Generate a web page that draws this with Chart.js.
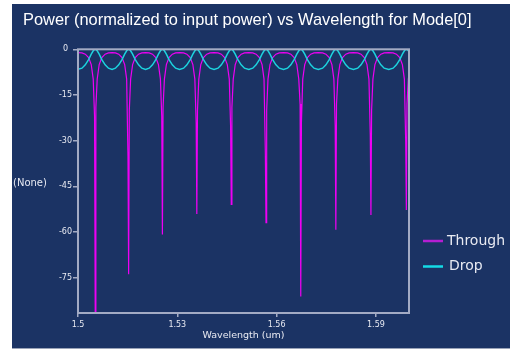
<!DOCTYPE html>
<html>
<head>
<meta charset="utf-8">
<script src="https://cdn.jsdelivr.net/npm/chart.js@4.4.1/dist/chart.umd.min.js"></script>
<style>
  html, body { margin: 0; padding: 0; background: #ffffff; }
  #panel {
    position: absolute; left: 12px; top: 4px; width: 498px; height: 344px;
    background: #1b3364; border-bottom: 1px solid #9aa3b8;
  }
</style>
</head>
<body>
<div id="panel"><canvas id="powerChart"></canvas></div>
<script>
// wavelength samples (um), dense around each ring resonance
const wavelength = [
  1.5000,
  1.5012, 1.5022, 1.5032, 1.5040, 1.5046, 1.5050, 1.5052, 1.5054, 1.5058, 1.5064, 1.5072, 1.5082, 1.5092, 1.5103,
  1.5113, 1.5123, 1.5133, 1.5141, 1.5147, 1.5151, 1.5153, 1.5155, 1.5159, 1.5165, 1.5173, 1.5183, 1.5193, 1.5204,
  1.5215, 1.5225, 1.5235, 1.5243, 1.5249, 1.5253, 1.5255, 1.5257, 1.5261, 1.5267, 1.5275, 1.5285, 1.5295, 1.5307,
  1.5319, 1.5329, 1.5339, 1.5347, 1.5353, 1.5357, 1.5359, 1.5361, 1.5365, 1.5371, 1.5379, 1.5389, 1.5399, 1.5411,
  1.5423, 1.5433, 1.5443, 1.5451, 1.5457, 1.5461, 1.5463, 1.5465, 1.5469, 1.5475, 1.5483, 1.5493, 1.5503, 1.5516,
  1.5528, 1.5538, 1.5548, 1.5556, 1.5562, 1.5566, 1.5568, 1.5570, 1.5574, 1.5580, 1.5588, 1.5598, 1.5608, 1.5621,
  1.5633, 1.5643, 1.5653, 1.5661, 1.5667, 1.5671, 1.5673, 1.5675, 1.5679, 1.5685, 1.5693, 1.5703, 1.5713, 1.5726,
  1.5739, 1.5749, 1.5759, 1.5767, 1.5773, 1.5777, 1.5779, 1.5781, 1.5785, 1.5791, 1.5799, 1.5809, 1.5819, 1.5832,
  1.5845, 1.5855, 1.5865, 1.5873, 1.5879, 1.5883, 1.5885, 1.5887, 1.5891, 1.5897, 1.5905, 1.5915, 1.5925, 1.5939,
  1.5952, 1.5962, 1.5972, 1.5980, 1.5986, 1.5990, 1.5992, 1.5994, 1.5998, 1.6000
];

// through port power (dB)
const through = [
  -1.08,
  -1.2, -1.6, -2.7, -5.0, -9.8, -22, -86.6, -19, -9.8, -5.0, -2.7, -1.6, -1.2, -1.07,
  -1.2, -1.6, -2.7, -5.0, -9.8, -35, -73.9, -20, -9.8, -5.0, -2.7, -1.6, -1.2, -1.07,
  -1.2, -1.6, -2.7, -5.0, -9.8, -22, -60.8, -19, -9.8, -5.0, -2.7, -1.6, -1.2, -1.07,
  -1.2, -1.6, -2.7, -5.0, -9.8, -24, -54.1, -20, -9.8, -5.0, -2.7, -1.6, -1.2, -1.07,
  -1.2, -1.6, -2.7, -5.0, -9.8, -25, -50.9, -19, -9.8, -5.0, -2.7, -1.6, -1.2, -1.07,
  -1.2, -1.6, -2.7, -5.0, -9.8, -34, -56.9, -20, -9.8, -5.0, -2.7, -1.6, -1.2, -1.07,
  -1.2, -1.6, -2.7, -5.0, -9.8, -18, -81.2, -24, -9.8, -5.0, -2.7, -1.6, -1.2, -1.07,
  -1.2, -1.6, -2.7, -5.0, -9.8, -25, -59.3, -18, -9.8, -5.0, -2.7, -1.6, -1.2, -1.07,
  -1.2, -1.6, -2.7, -5.0, -9.8, -28, -54.4, -20, -9.8, -5.0, -2.7, -1.6, -1.2, -1.07,
  -1.2, -1.6, -2.7, -5.0, -9.8, -30, -52.8, -18, -9.8, -8.2
];

// drop port power (dB)
const drop = [
  -6.58,
  -6.2, -5.1, -3.4, -1.6, -0.5, -0.06, 0, -0.06, -0.5, -1.6, -3.4, -5.1, -6.2, -6.6,
  -6.2, -5.1, -3.4, -1.6, -0.5, -0.06, 0, -0.06, -0.5, -1.6, -3.4, -5.1, -6.2, -6.6,
  -6.2, -5.1, -3.4, -1.6, -0.5, -0.06, 0, -0.06, -0.5, -1.6, -3.4, -5.1, -6.2, -6.6,
  -6.2, -5.1, -3.4, -1.6, -0.5, -0.06, 0, -0.06, -0.5, -1.6, -3.4, -5.1, -6.2, -6.6,
  -6.2, -5.1, -3.4, -1.6, -0.5, -0.06, 0, -0.06, -0.5, -1.6, -3.4, -5.1, -6.2, -6.6,
  -6.2, -5.1, -3.4, -1.6, -0.5, -0.06, 0, -0.06, -0.5, -1.6, -3.4, -5.1, -6.2, -6.6,
  -6.2, -5.1, -3.4, -1.6, -0.5, -0.06, 0, -0.06, -0.5, -1.6, -3.4, -5.1, -6.2, -6.6,
  -6.2, -5.1, -3.4, -1.6, -0.5, -0.06, 0, -0.06, -0.5, -1.6, -3.4, -5.1, -6.2, -6.6,
  -6.2, -5.1, -3.4, -1.6, -0.5, -0.06, 0, -0.06, -0.5, -1.6, -3.4, -5.1, -6.2, -6.6,
  -6.2, -5.1, -3.4, -1.6, -0.5, -0.06, 0, -0.06, -0.5, -0.8
];

const chartTitle = 'Power (normalized to input power) vs Wavelength for Mode[0]';
const seriesNames = ['Through', 'Drop'];
const xTicks = [1.5, 1.53, 1.56, 1.59];
const yTicks = [0, -15, -30, -45, -60, -75];

const frameColor = '#a3abc4';
const textColor = '#e8eaf2';

// title, frame around plot area, horizontal y-title and custom legend
const decorations = {
  id: 'decorations',
  afterDatasetsDraw(chart) {
    const ctx = chart.ctx;
    const a = chart.chartArea;
    ctx.save();
    ctx.strokeStyle = frameColor;
    ctx.lineWidth = 2;
    ctx.strokeRect(a.left, a.top, a.right - a.left, a.bottom - a.top);

    ctx.textBaseline = 'middle';
    ctx.textAlign = 'left';
    ctx.fillStyle = '#ffffff';
    ctx.font = '16.4px "Liberation Sans", Arial, sans-serif';
    ctx.fillText(chartTitle, 11, 16.5);

    ctx.fillStyle = textColor;
    ctx.font = '10px "DejaVu Sans"';
    ctx.fillText('(None)', 1, 179.5);

    ctx.font = '14px "DejaVu Sans"';
    chart.data.datasets.forEach(function(ds, i) {
      const y = 237 + i * 25.5;
      ctx.strokeStyle = ds.legendColor;
      ctx.lineWidth = 2.5;
      ctx.beginPath();
      ctx.moveTo(411, y);
      ctx.lineTo(431, y);
      ctx.stroke();
      ctx.fillStyle = textColor;
      ctx.fillText(ds.label, 435 + (i === 1 ? 2 : 0), y);
    });
    ctx.restore();
  }
};

document.addEventListener('DOMContentLoaded', function() {
  const ctx = document.getElementById('powerChart').getContext('2d');
  new Chart(ctx, {
    type: 'line',
    data: {
      datasets: [{
        label: seriesNames[0],
        data: wavelength.map((w, i) => ({ x: w, y: through[i] })),
        borderColor: '#ee00f4',
        legendColor: '#b41ed2',
        borderWidth: 1.2,
        pointRadius: 0,
        tension: 0,
        order: 1
      }, {
        label: seriesNames[1],
        data: wavelength.map((w, i) => ({ x: w, y: drop[i] })),
        borderColor: '#1cd2de',
        legendColor: '#14dbe6',
        borderWidth: 1.5,
        pointRadius: 0,
        tension: 0,
        order: 0
      }]
    },
    options: {
      responsive: true,
      maintainAspectRatio: false,
      animation: false,
      layout: { padding: { left: 11, right: 101, top: 45.3, bottom: 0 } },
      plugins: {
        legend: { display: false },
        tooltip: { enabled: false },
        title: { display: false }
      },
      scales: {
        x: {
          type: 'linear',
          min: 1.5,
          max: 1.6,
          afterFit: s => { s.height = 35; },
          afterBuildTicks: s => { s.ticks = xTicks.map(v => ({ value: v })); },
          border: { display: false },
          grid: { drawOnChartArea: false, drawTicks: true, tickLength: 4, color: frameColor, lineWidth: 1.5 },
          ticks: {
            color: textColor,
            padding: 3,
            maxRotation: 0,
            font: { family: '"DejaVu Sans"', size: 8 },
            callback: v => String(v)
          },
          title: {
            display: true,
            text: 'Wavelength (um)',
            color: textColor,
            font: { family: '"DejaVu Sans"', size: 9.5 },
            padding: { top: 0, bottom: 7 }
          }
        },
        y: {
          min: -86.6,
          max: 0,
          afterFit: s => { s.width = 55; },
          afterBuildTicks: s => { s.ticks = yTicks.map(v => ({ value: v })); },
          border: { display: false },
          grid: { drawOnChartArea: false, drawTicks: true, tickLength: 5, color: frameColor, lineWidth: 1.5 },
          ticks: {
            color: textColor,
            padding: 1,
            crossAlign: 'center',
            font: { family: '"DejaVu Sans"', size: 8 },
            callback: v => String(v)
          }
        }
      }
    },
    plugins: [decorations]
  });
});
</script>
</body>
</html>
